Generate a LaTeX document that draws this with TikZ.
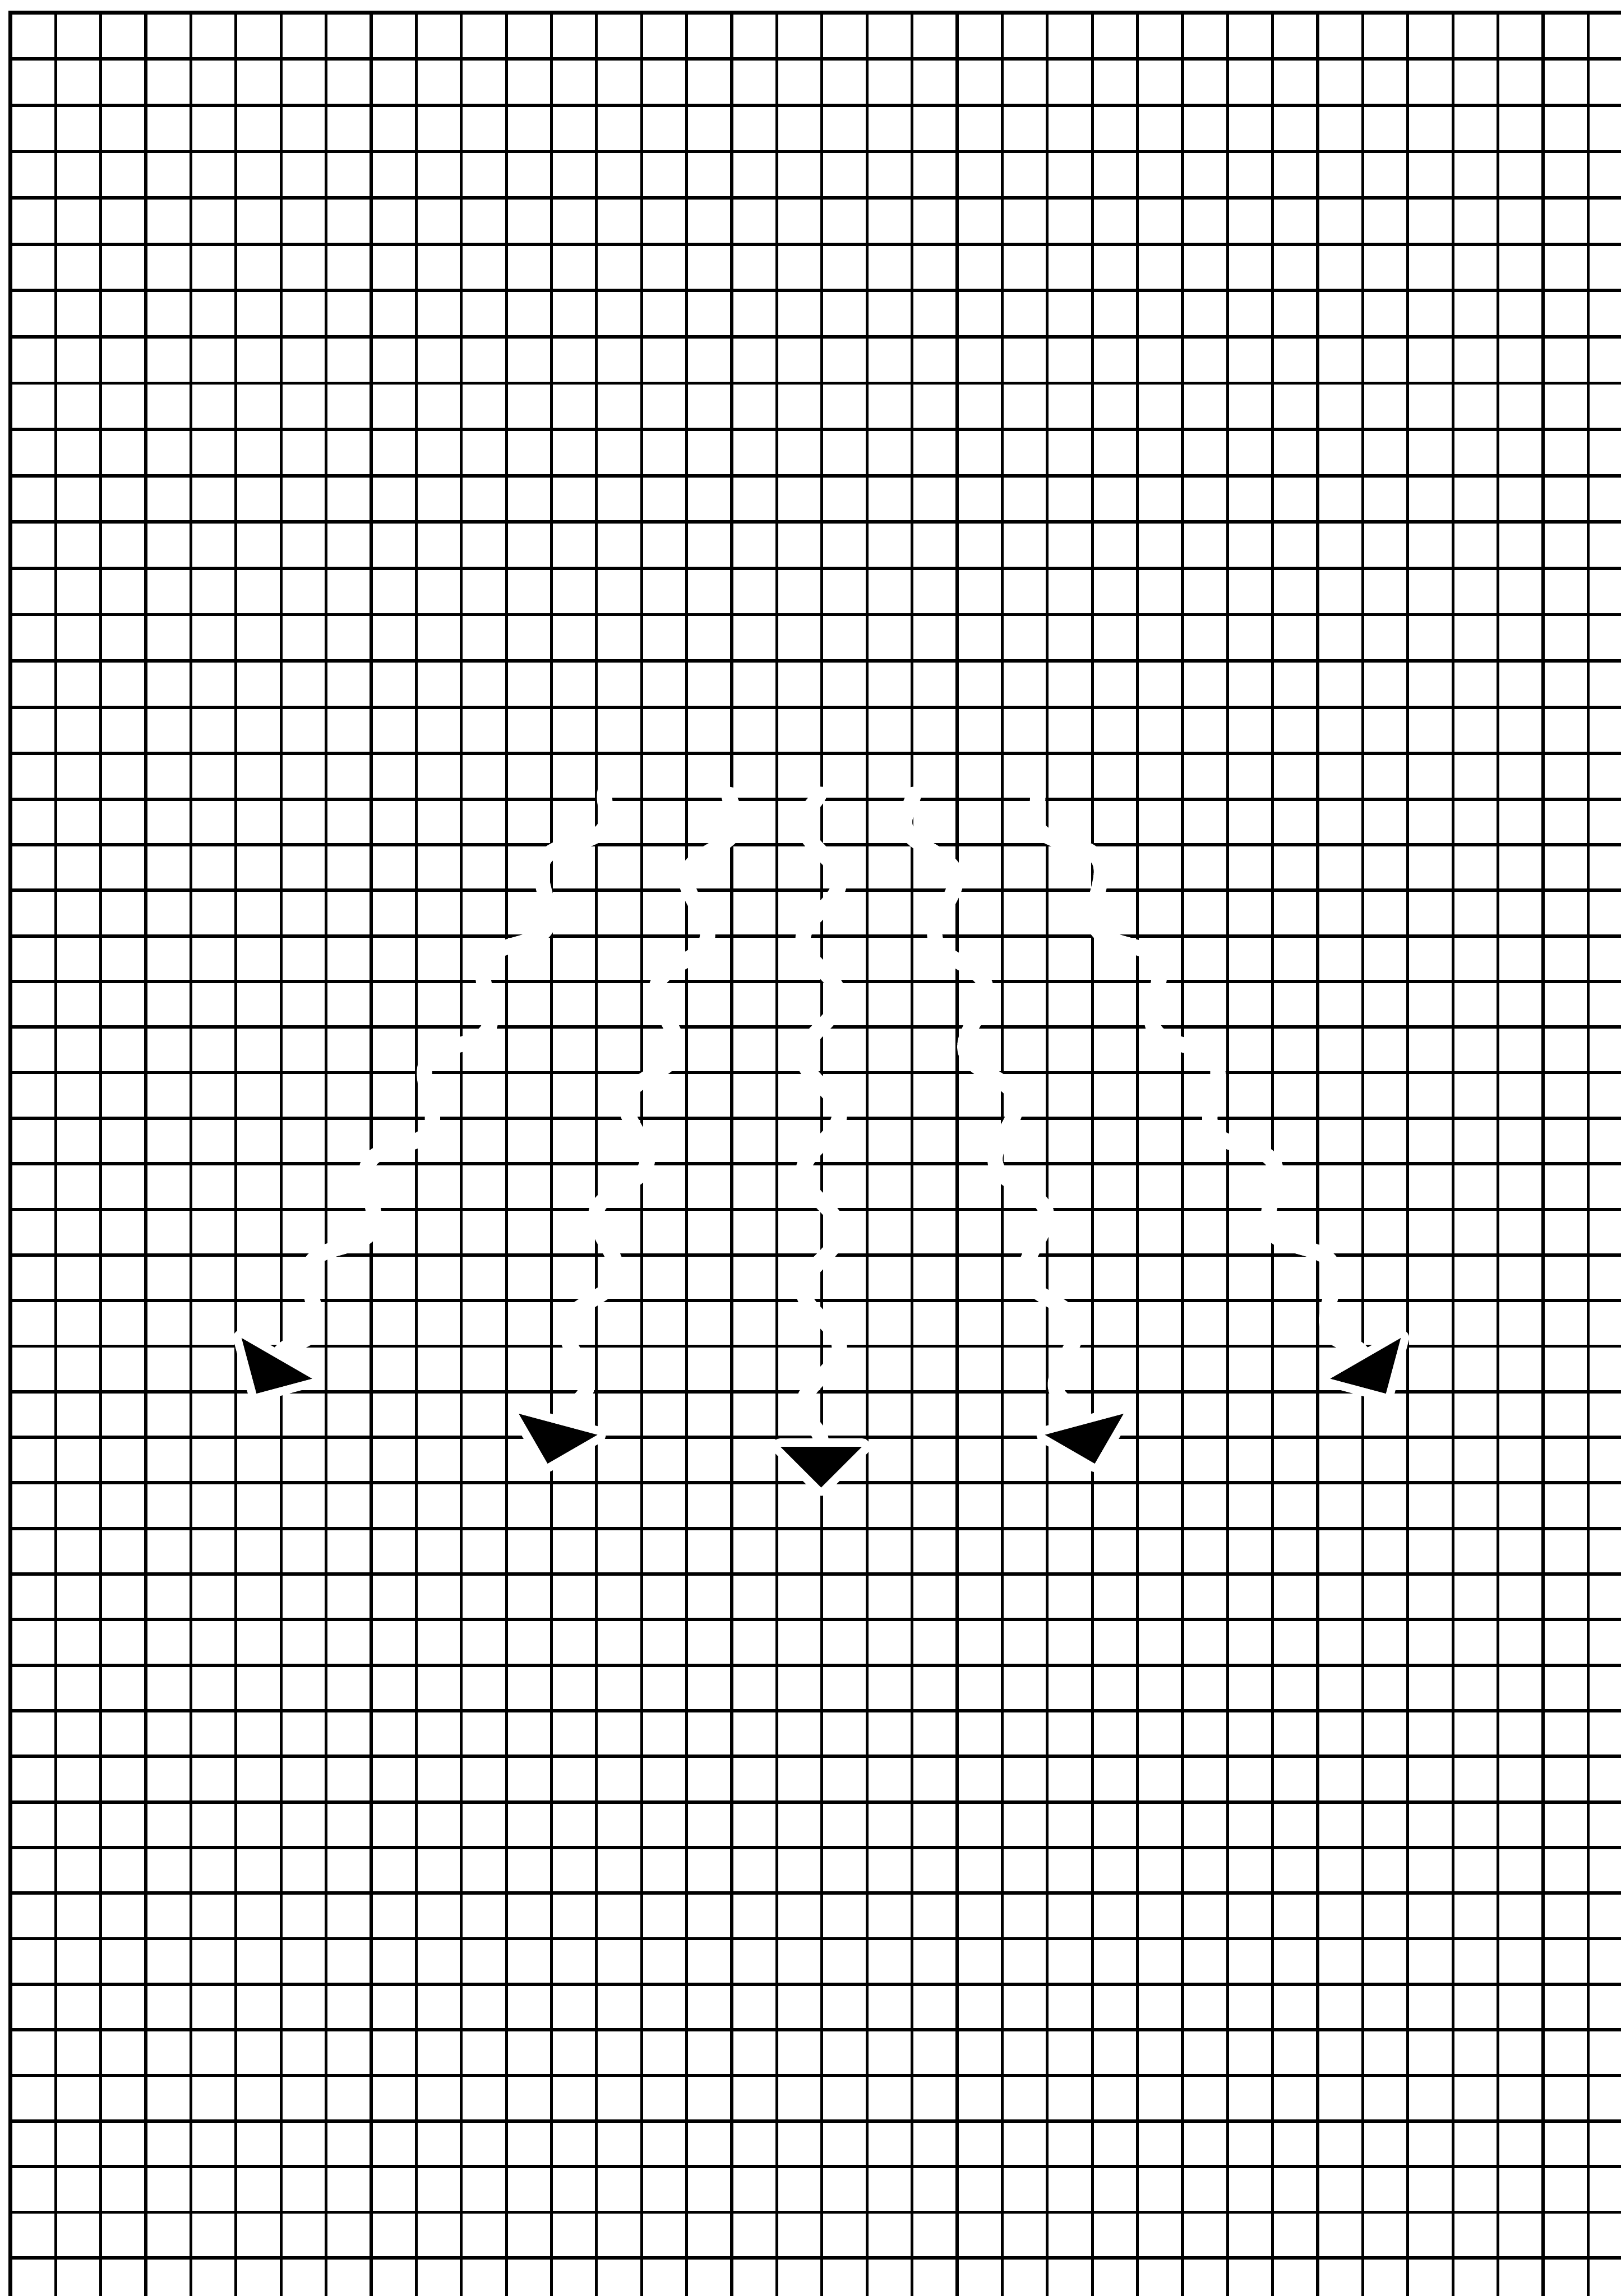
\documentclass[tikz,border=0pt]{standalone}
\usetikzlibrary{decorations.pathmorphing}
\begin{document}
\begin{tikzpicture}
  % Grid paper with a fan of five wavy arrows (erased in white)
  % columns are even; rows are a little taller above row 16 than below it
  \def\colw{1.2372}\def\rowa{1.27125}\def\rowb{1.2515}
  \def\gx{0.29}\def\gy{-0.35}\def\gm{-20.69}
  \tikzset{
    gridline/.style={line width=0.08cm, black},
    rowline/.style={line width=0.09cm, black},
    borderline/.style={line width=0.11cm, black},
    wave/.style={white, line width=0.42cm, decorate,
      decoration={snake, amplitude=0.5cm, segment length=3.2cm}},
    tipfill/.style={black, preaction={draw=white, line width=0.46cm, line join=round}}
  }
  \useasboundingbox (0,0) rectangle (44.49,-63.04);
  \clip (0,0) rectangle (44.49,-63.04);

  % Grid lines
  \foreach \i in {1,...,35}
    \draw[gridline] ({\gx+\colw*\i},\gy) -- ({\gx+\colw*\i},-63.1);
  \foreach \j in {1,...,16}
    \draw[rowline] (\gx,{\gy-\rowa*\j}) -- (44.6,{\gy-\rowa*\j});
  \foreach \j in {1,...,33}
    \draw[rowline] (\gx,{\gm-\rowb*\j}) -- (44.6,{\gm-\rowb*\j});
  % Outer border (left and top)
  \draw[borderline] (\gx,-63.1) -- (\gx,\gy) -- (44.6,\gy);

  % Wavy arrows: number / start x / direction / snake side
  \foreach \n/\x/\a/\m in {1/16.66/240/false, 2/20.01/255/false, 3/22.54/270/true,
                           4/25.07/285/true, 5/28.42/300/true} {
    \coordinate (s\n) at (\x,-21.6);
    \path (s\n) ++(\a:19.24) coordinate (t\n);
    \draw[wave, decoration={mirror=\m}] (s\n) -- (t\n);
    \fill[tipfill] (t\n) -- +(\a+135:1.58) -- +(\a-135:1.58) -- cycle;
  }
\end{tikzpicture}
\end{document}
